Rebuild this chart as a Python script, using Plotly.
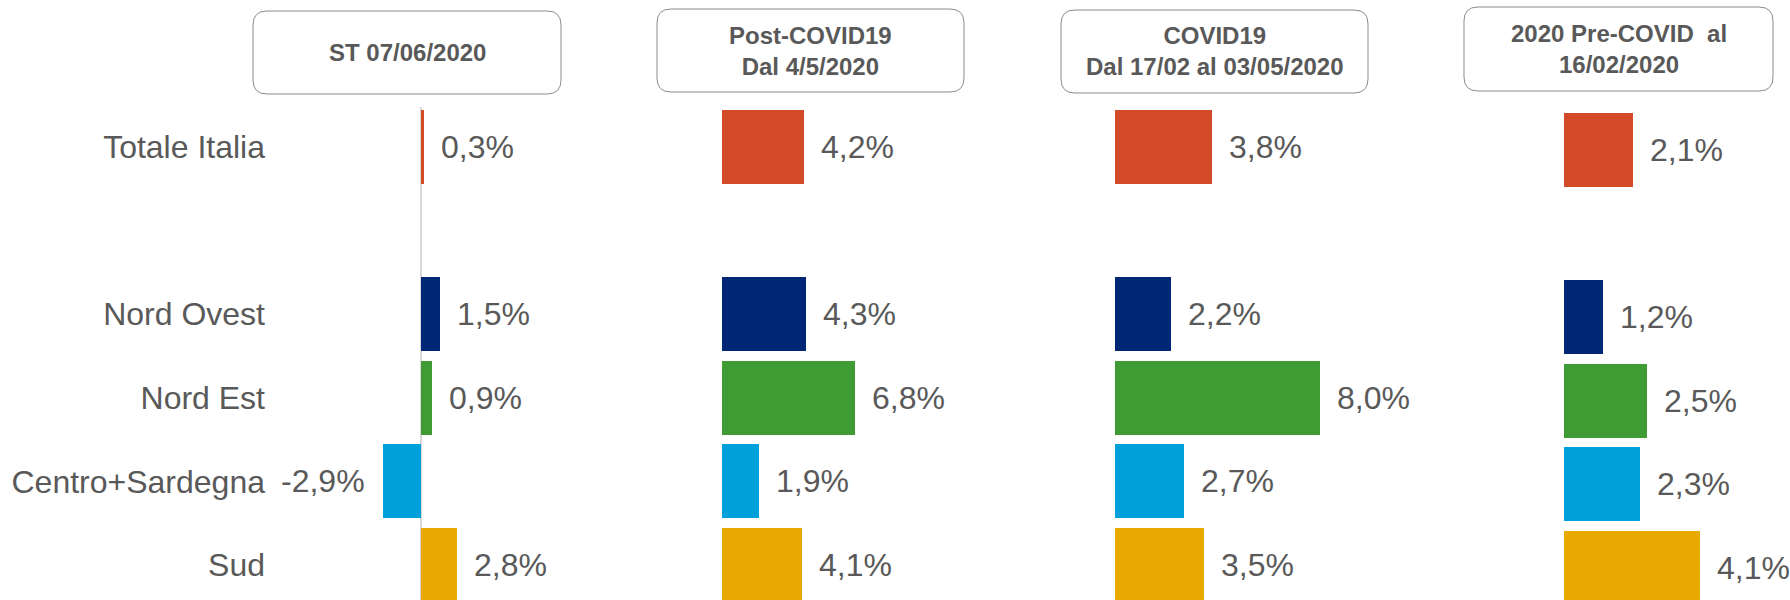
import plotly.graph_objects as go

# ---------------- data ----------------
regions = ["Totale Italia", "Nord Ovest", "Nord Est", "Centro+Sardegna", "Sud"]
st_0706 = [0.3, 1.5, 0.9, -2.9, 2.8]
post_covid = [4.2, 4.3, 6.8, 1.9, 4.1]
covid = [3.8, 2.2, 8.0, 2.7, 3.5]
pre_covid = [2.1, 1.2, 2.5, 2.3, 4.1]
panel_titles = [
    "ST 07/06/2020",
    "Post-COVID19<br>Dal 4/5/2020",
    "COVID19<br>Dal 17/02 al 03/05/2020",
    "2020 Pre-COVID\u00a0 al<br>16/02/2020",
]
region_colors = ["#D24A28", "#002776", "#3F9C35", "#00A0DB", "#E8A900"]

# category order with an empty slot after the national total
cat_order = [regions[0], " "] + regions[1:]

W, H = 1790, 600
TXT = "#595959"
FONT = "Arial, Liberation Sans, sans-serif"

# layout geometry (pixels)
panels = [
    # (domain px left, right, zero px, px per %)
    (266, 640, 420.5, 12.9),
    (640, 1040, 721.5, 19.6),
    (1040, 1440, 1114.5, 25.7),
    (1440, 1790, 1563.5, 33.2),
]
boxes = [(253, 11, 561, 94), (657, 9, 964, 92), (1061, 10, 1368, 93), (1464, 7, 1773, 91)]
y_top_px, y_bot_px, y0_px, slot_px = 107, 600, 147, 83.6
y_shift = [0, 0, 0, 3]

series = [st_0706, post_covid, covid, pre_covid]

fig = go.Figure()
layout_axes = {}
annotations = []

def fmt(v):
    return f"{v:.1f}".replace(".", ",") + "%"

for i, (vals, (a, b, z, s)) in enumerate(zip(series, panels)):
    n = "" if i == 0 else str(i + 1)
    xa, ya = "x" + n, "y" + n
    fig.add_trace(go.Bar(
        x=vals, y=regions, orientation="h", width=0.885,
        marker=dict(color=region_colors, line=dict(width=0)),
        xaxis=xa, yaxis=ya, showlegend=False, hoverinfo="skip",
    ))
    layout_axes["xaxis" + n] = dict(
        domain=[a / W, b / W], range=[(a - z) / s, (b - z) / s],
        showgrid=False, showticklabels=False, ticks="",
        zeroline=(i == 0), zerolinecolor="#D9D9D9", zerolinewidth=2,
        anchor=ya, fixedrange=True,
    )
    sh = y_shift[i]
    layout_axes["yaxis" + n] = dict(
        type="category", categoryorder="array", categoryarray=cat_order,
        domain=[1 - y_bot_px / H, 1 - y_top_px / H],
        range=[(y_bot_px - y0_px - sh) / slot_px, (y_top_px - y0_px - sh) / slot_px],
        showgrid=False, zeroline=False, ticks="",
        showticklabels=(i == 0),
        tickfont=dict(size=32, color=TXT, family=FONT),
        anchor=xa, fixedrange=True,
    )
    for r, v in zip(regions, vals):
        annotations.append(dict(
            x=v, y=r, xref=xa, yref=ya, text=fmt(v), showarrow=False,
            xanchor="left" if v >= 0 else "right", yanchor="middle",
            xshift=15 if v >= 0 else -16,
            font=dict(size=32, color=TXT, family=FONT),
        ))

shapes = []
def rrect(x0, y0, x1, y1, r=14):
    def P(x, y):
        return f"{x / W:.6f},{1 - y / H:.6f}"
    return ("M " + P(x0 + r, y0) + " L " + P(x1 - r, y0) + " Q " + P(x1, y0) + " " + P(x1, y0 + r)
            + " L " + P(x1, y1 - r) + " Q " + P(x1, y1) + " " + P(x1 - r, y1)
            + " L " + P(x0 + r, y1) + " Q " + P(x0, y1) + " " + P(x0, y1 - r)
            + " L " + P(x0, y0 + r) + " Q " + P(x0, y0) + " " + P(x0 + r, y0) + " Z")

for (x0, y0, x1, y1), title in zip(boxes, panel_titles):
    shapes.append(dict(type="path", xref="paper", yref="paper", path=rrect(x0, y0, x1, y1),
                       line=dict(color="#8C8C8C", width=1), fillcolor="rgba(0,0,0,0)"))
    annotations.append(dict(
        x=(x0 + x1) / 2 / W, y=1 - (y0 + y1) / 2 / H, xref="paper", yref="paper",
        text="<b>" + title + "</b>", showarrow=False, xanchor="center", yanchor="middle",
        font=dict(size=24, color=TXT, family=FONT),
    ))

fig.update_layout(
    width=W, height=H, margin=dict(l=0, r=0, t=0, b=0),
    paper_bgcolor="white", plot_bgcolor="white",
    bargap=0, annotations=annotations, shapes=shapes,
    font=dict(family=FONT, color=TXT),
    **layout_axes,
)

fig.write_html("out.html", config={"displayModeBar": False},
               post_script="document.body.style.margin='0';")
